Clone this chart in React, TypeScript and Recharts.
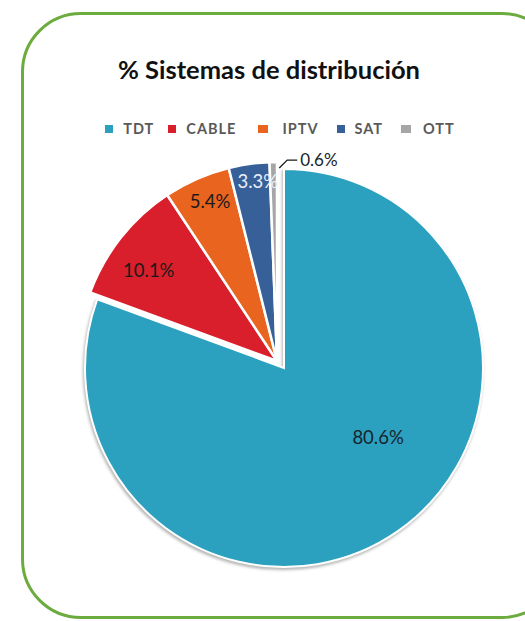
import React from "react";
import { PieChart, Pie, Cell, Legend } from "recharts";

const categories = ["TDT", "CABLE", "IPTV", "SAT", "OTT"];
const shares = [80.6, 10.1, 5.4, 3.3, 0.6];
const colors = ["#2BA1BF", "#D91F2B", "#E8641F", "#376099", "#A6A6A6"];
const labelColors = ["#17242E", "#1A1A1A", "#1A1A1A", "#E8EEF8", "#17242E"];
const title = "% Sistemas de distribución";

const data = categories.map((name, i) => ({ name, value: shares[i] }));

const RAD = Math.PI / 180;
const FONT = "Lato, 'Open Sans', sans-serif";

const renderLabel = (exploded: boolean) => (props: any) => {
  const { cx, cy, midAngle, outerRadius, index, value } = props;
  if (exploded === (index === 0)) return null;
  const txt = `${Number(value).toFixed(1)}%`;
  if (index === 4) {
    const a = midAngle * RAD;
    const x0 = cx + outerRadius * Math.cos(a) + 6;
    const y0 = cy - outerRadius * Math.sin(a) + 6;
    const x1 = x0 + 8;
    const y1 = y0 - 8;
    const x2 = x1 + 10;
    return (
      <g key={`l${index}`}>
        <polyline points={`${x0},${y0} ${x1},${y1} ${x2},${y1}`} fill="none" stroke="#1a1a1a" strokeWidth={1.3} />
        <text x={x2 + 3} y={y1 - 1} dominantBaseline="central" textAnchor="start" fontFamily={FONT} fontSize={17} fill={labelColors[index]}>
          {txt}
        </text>
      </g>
    );
  }
  let ang = midAngle;
  let f = 0.82;
  if (index === 0) { ang = midAngle + 19; f = 0.585; }
  if (index === 1) { ang = midAngle + 3; f = 0.79; }
  if (index === 2) { ang = midAngle - 1; f = 0.87; }
  if (index === 3) { ang = midAngle - 2; f = 0.91; }
  const x = cx + outerRadius * f * Math.cos(ang * RAD);
  const y = cy - outerRadius * f * Math.sin(ang * RAD);
  return (
    <text key={`l${index}`} x={x} y={y} textAnchor="middle" dominantBaseline="central" fontFamily={FONT} fontSize={18.5} fill={labelColors[index]}>
      {txt}
    </text>
  );
};

const gapAfter = [14, 22, 19, 18, 0];
const gapInside = [10, 10, 14, 9, 12];

const LegendContent = () => (
  <div style={{ display: "flex", justifyContent: "center", alignItems: "center", fontFamily: FONT, fontWeight: 700, fontSize: 14.5, color: "#595959", letterSpacing: 1 }}>
    {categories.map((c, i) => (
      <div key={c} style={{ display: "flex", alignItems: "center", marginRight: gapAfter[i] }}>
        <span style={{ display: "inline-block", width: i === 2 || i === 4 ? 10 : 8, height: 8, background: colors[i], marginRight: gapInside[i] }} />
        <span>{c}</span>
      </div>
    ))}
  </div>
);

export default function App() {
  const cx = 284;
  const cy = 368;
  const r = 199;
  const dx = -7;
  const dy = -7;
  return (
    <div style={{ position: "absolute", left: 0, top: 0, width: 525, height: 621, overflow: "hidden", background: "#fff" }}>
      <div style={{ position: "absolute", left: 21, top: 12, width: 535, height: 601, border: "3.5px solid #6CAB3E", borderRadius: 60 }} />
      <div style={{ position: "absolute", left: 0, top: 54, width: 538, textAlign: "center", fontFamily: FONT, fontWeight: 700, fontSize: 25.5, color: "#111" }}>
        {title}
      </div>
      <div style={{ position: "absolute", left: 0, top: 0 }}>
        <PieChart width={525} height={621} margin={{ top: 0, right: 0, bottom: 0, left: 0 }}>
          <Legend content={<LegendContent />} verticalAlign="middle" align="center" layout="horizontal" wrapperStyle={{ top: 120, left: 0, width: 560 }} />
          <Pie
            data={data}
            dataKey="value"
            nameKey="name"
            cx={cx}
            cy={cy}
            outerRadius={r}
            startAngle={90}
            endAngle={-270}
            stroke="#ffffff"
            strokeWidth={2}
            isAnimationActive={false}
            labelLine={false}
            label={renderLabel(false)}
            style={{ filter: "drop-shadow(-1px 2px 1.5px rgba(0,0,0,0.3))" }}
          >
            {data.map((d, i) => (
              <Cell key={d.name} fill={i === 0 ? colors[i] : "none"} stroke={i === 0 ? "#ffffff" : "none"} />
            ))}
          </Pie>
          <Pie
            data={data}
            dataKey="value"
            nameKey="name"
            cx={cx + dx}
            cy={cy + dy}
            outerRadius={r}
            startAngle={90}
            endAngle={-270}
            stroke="#ffffff"
            strokeWidth={2.5}
            isAnimationActive={false}
            labelLine={false}
            label={renderLabel(true)}
          >
            {data.map((d, i) => (
              <Cell key={d.name} fill={i === 0 ? "none" : colors[i]} stroke={i === 0 ? "none" : "#ffffff"} />
            ))}
          </Pie>
        </PieChart>
      </div>
    </div>
  );
}
